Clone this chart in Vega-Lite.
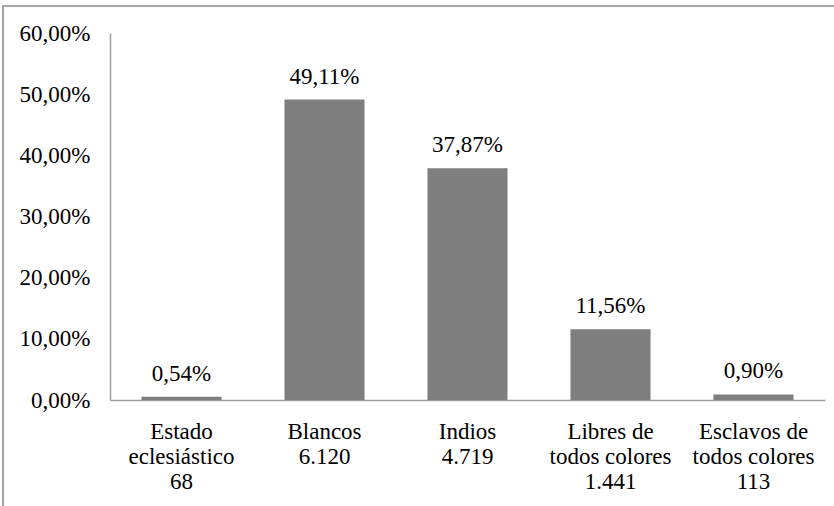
{
  "$schema": "https://vega.github.io/schema/vega-lite/v6.json",
  "width": 834,
  "height": 504,
  "autosize": {"type": "none"},
  "padding": {"left": 3, "top": 6, "right": 0, "bottom": 0},
  "background": "#ffffff",
  "config": {
    "locale": {"number": {"decimal": ",", "thousands": ".", "grouping": [3], "currency": ["", ""]}},
    "view": {"stroke": "#a6a6a6", "strokeWidth": 2}
  },
  "data": {
    "values": [
      {"categoria": "Estado|eclesiástico|68", "proporcion": 0.0054},
      {"categoria": "Blancos|6.120", "proporcion": 0.4911},
      {"categoria": "Indios|4.719", "proporcion": 0.3787},
      {"categoria": "Libres de|todos colores|1.441", "proporcion": 0.1156},
      {"categoria": "Esclavos de|todos colores|113", "proporcion": 0.009}
    ]
  },
  "encoding": {
    "x": {
      "field": "categoria",
      "type": "nominal",
      "sort": null,
      "scale": {"range": [107, 822], "paddingInner": 0.44, "paddingOuter": 0.22},
      "axis": {
        "title": null,
        "labelAngle": 0,
        "labelExpr": "split(datum.label, '|')",
        "labelFont": "serif",
        "labelFontSize": 23,
        "labelColor": "#000000",
        "labelLineHeight": 25,
        "labelPadding": 20,
        "labelOverlap": false,
        "ticks": false,
        "tickSize": 0,
        "domainColor": "#a0a0a0",
        "domainWidth": 1.5,
        "offset": -110,
        "grid": false
      }
    },
    "y": {
      "field": "proporcion",
      "type": "quantitative",
      "scale": {"domain": [0, 0.6], "range": [394, 27], "nice": false},
      "axis": {
        "title": null,
        "format": ".2%",
        "values": [0, 0.1, 0.2, 0.3, 0.4, 0.5, 0.6],
        "labelFont": "serif",
        "labelFontSize": 23,
        "labelColor": "#000000",
        "labelPadding": 20,
        "labelOverlap": false,
        "ticks": false,
        "tickSize": 0,
        "domainColor": "#a0a0a0",
        "domainWidth": 1.5,
        "offset": -107,
        "grid": false
      }
    }
  },
  "layer": [
    {"mark": {"type": "bar", "color": "#7f7f7f"}},
    {
      "mark": {"type": "text", "baseline": "alphabetic", "dy": -16, "font": "serif", "fontSize": 23, "color": "#000000"},
      "encoding": {"text": {"field": "proporcion", "type": "quantitative", "format": ".2%"}}
    }
  ]
}
